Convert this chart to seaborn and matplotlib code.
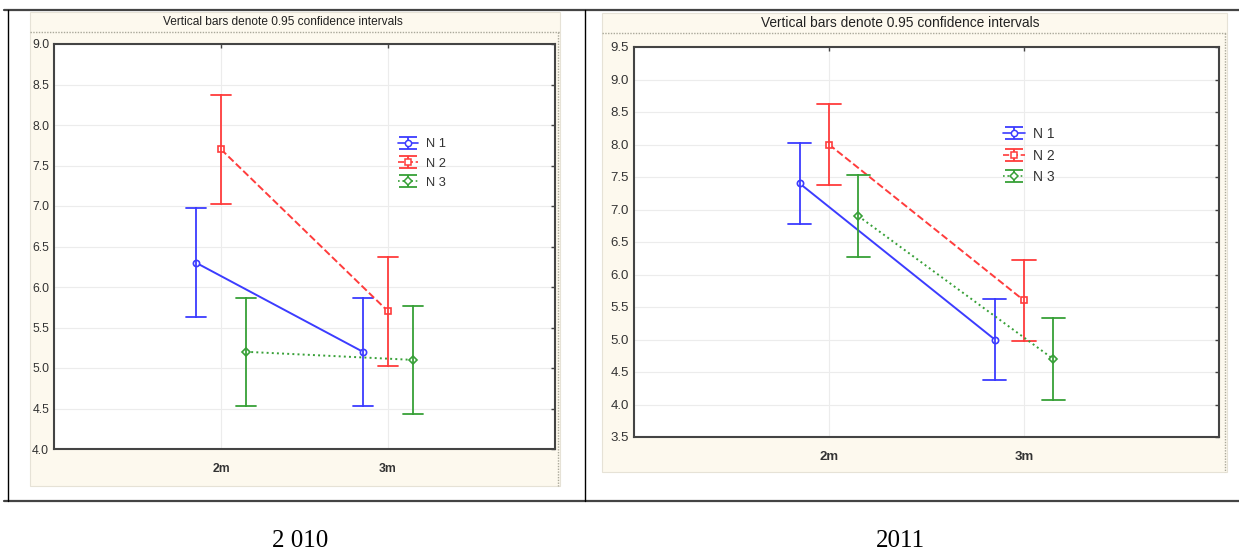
"""
Two Statistica-style interaction plots (2010 / 2011): group means at 2m and 3m
with 0.95 confidence intervals, set inside a two-cell table with year captions.
"""

import numpy as np
import pandas as pd
import matplotlib
matplotlib.use("Agg")
import matplotlib.pyplot as plt
from matplotlib import font_manager
from matplotlib.patches import Rectangle
from matplotlib.lines import Line2D
from matplotlib.path import Path
from matplotlib.legend_handler import HandlerTuple
import seaborn as sns

# ------------------------------------------------------------------ data
months = ["2m", "3m"]
groups = ["N 1", "N 2", "N 3"]

# group means (2m, 3m)
n1_2010 = [6.3, 5.2]
n2_2010 = [7.7, 5.7]
n3_2010 = [5.2, 5.1]
n1_2011 = [7.4, 5.0]
n2_2011 = [8.0, 5.6]
n3_2011 = [6.9, 4.7]

# half width of the 0.95 confidence interval
ci_half_2010 = 0.67
ci_half_2011 = 0.63

yticks_2010 = np.arange(4.0, 9.01, 0.5)
yticks_2011 = np.arange(3.5, 9.51, 0.5)

title = "Vertical bars denote 0.95 confidence intervals"
captions = ["2 010", "2011"]

palette = ["#3c3cff", "#ff3c3c", "#37a037"]
markers = ["o", "s", "D"]
linestyles = ["-", "--", ":"]

# ----------------------------------------------------------------- style
sns.set_style("white")
have = {f.name for f in font_manager.fontManager.ttflist}
sans = "Liberation Sans Narrow" if "Liberation Sans Narrow" in have else "Liberation Sans"
plt.rcParams["font.family"] = [sans, "DejaVu Sans"]

W, H = 1239, 552
fig = plt.figure(figsize=(W / 100, H / 100), dpi=100)


def fx(x):
    return x / W


def fy(y):
    return 1 - y / H


def long_table(means, half):
    # each mean with its CI ends -> pointplot gives mean and min/max
    rows = []
    for g, m in zip(groups, means):
        for mo, v in zip(months, m):
            for val in (v - half, v, v + half):
                rows.append({"month": mo, "group": g, "value": val})
    return pd.DataFrame(rows)


df_2010 = long_table([n1_2010, n2_2010, n3_2010], ci_half_2010)
df_2011 = long_table([n1_2011, n2_2011, n3_2011], ci_half_2011)

# "I"-beam symbol used in the legend (top cap, stem, bottom cap)
ibeam = Path([(-1, 0.62), (1, 0.62), (0, 0.62), (0, -0.62), (-1, -0.62), (1, -0.62)],
             [Path.MOVETO, Path.LINETO, Path.MOVETO, Path.LINETO, Path.MOVETO, Path.LINETO])

panels = [
    dict(df=df_2010, yticks=yticks_2010, cream=(30, 12, 560, 486), sep=32,
         axbox=(54, 44, 555, 449), tpos=(283, 22), tsize=8.6, fsize=8.8,
         leg=(0.686, 0.767), cap=(300, 541)),
    dict(df=df_2011, yticks=yticks_2011, cream=(602, 13, 1227, 472), sep=33,
         axbox=(634, 47, 1219, 437), tpos=(900, 23), tsize=9.9, fsize=9.5,
         leg=(0.630, 0.795), cap=(900, 541)),
]

# ------------------------------------------------------------ table lines
fig.add_artist(Line2D([fx(4), 1], [fy(10)] * 2, color="#444444", lw=1.6))
fig.add_artist(Line2D([fx(4), 1], [fy(501)] * 2, color="#444444", lw=1.6))
fig.add_artist(Line2D([fx(8)] * 2, [fy(10), fy(501)], color="black", lw=1))
fig.add_artist(Line2D([fx(585)] * 2, [fy(10), fy(501)], color="black", lw=1))

for i, p in enumerate(panels):
    x0, y0, x1, y1 = p["cream"]
    fig.add_artist(Rectangle((fx(x0), fy(y1)), fx(x1) - fx(x0), fy(y0) - fy(y1),
                             transform=fig.transFigure, facecolor="#fdf9ee",
                             edgecolor="#e6e2d6", lw=0.8, zorder=0))
    fig.add_artist(Line2D([fx(x0), fx(x1)], [fy(p["sep"])] * 2, color="#aaa89a",
                          lw=1, ls=(0, (1, 1))))
    fig.add_artist(Line2D([fx(x1 - 2)] * 2, [fy(p["sep"]), fy(y1)], color="#aaa89a",
                          lw=1, ls=(0, (1, 1))))
    fig.text(fx(p["tpos"][0]), fy(p["tpos"][1]), title, ha="center", va="center",
             fontsize=p["tsize"], color="#222222")

    a0, b0, a1, b1 = p["axbox"]
    ax = fig.add_axes([fx(a0), fy(b1), fx(a1) - fx(a0), fy(b0) - fy(b1)])
    ax.set_facecolor("white")
    ax.set_axisbelow(True)

    sns.pointplot(data=p["df"], x="month", y="value", hue="group",
                  order=months, hue_order=groups, estimator="mean",
                  errorbar=("pi", 100), dodge=0.3, capsize=0.12,
                  markers=markers, linestyles=linestyles, palette=palette,
                  markersize=4.5, linewidth=1.4, markerfacecolor="white",
                  markeredgewidth=1.2, err_kws={"linewidth": 1.3},
                  legend=False, ax=ax)

    ax.set_xlim(-1, 2)
    ax.set_ylim(p["yticks"][0], p["yticks"][-1])
    ax.set_yticks(p["yticks"])
    ax.set_yticklabels([f"{v:.1f}" for v in p["yticks"]])
    ax.set_xlabel("")
    ax.set_ylabel("")
    ax.grid(True, color="#ececec", lw=0.8)
    for s in ax.spines.values():
        s.set_color("#444444")
        s.set_linewidth(1.5)
    ax.tick_params(axis="both", direction="in", length=3, width=1, color="#444444",
                   top=True, right=True, labelsize=p["fsize"], labelcolor="#333333")
    ax.tick_params(axis="x", pad=10)
    for t in ax.get_xticklabels():
        t.set_fontweight("bold")

    # legend symbols: I-beam error bar + series line with its marker, overlaid
    handles = []
    for c, m, ls in zip(palette, markers, linestyles):
        beam = Line2D([], [], ls="none", marker=ibeam, markersize=13,
                      markerfacecolor="none", markeredgecolor=c, markeredgewidth=1.3)
        line = Line2D([], [], color=c, ls=ls, lw=1.2, marker=m, markersize=4.5,
                      markerfacecolor="white", markeredgecolor=c, markeredgewidth=1.1)
        handles.append((beam, line))
    ax.legend(handles, groups, loc="upper left", bbox_to_anchor=p["leg"],
              handler_map={tuple: HandlerTuple(ndivide=1, pad=0)},
              frameon=False, borderaxespad=0, borderpad=0, handlelength=1.6,
              handletextpad=0.6, labelspacing=0.55, fontsize=p["fsize"] + 0.5,
              labelcolor="#333333")

    fig.text(fx(p["cap"][0]), fy(p["cap"][1]), captions[i], ha="center", va="center",
             family="Liberation Serif", fontsize=18, color="black")

fig.savefig("out.png", dpi=100)
